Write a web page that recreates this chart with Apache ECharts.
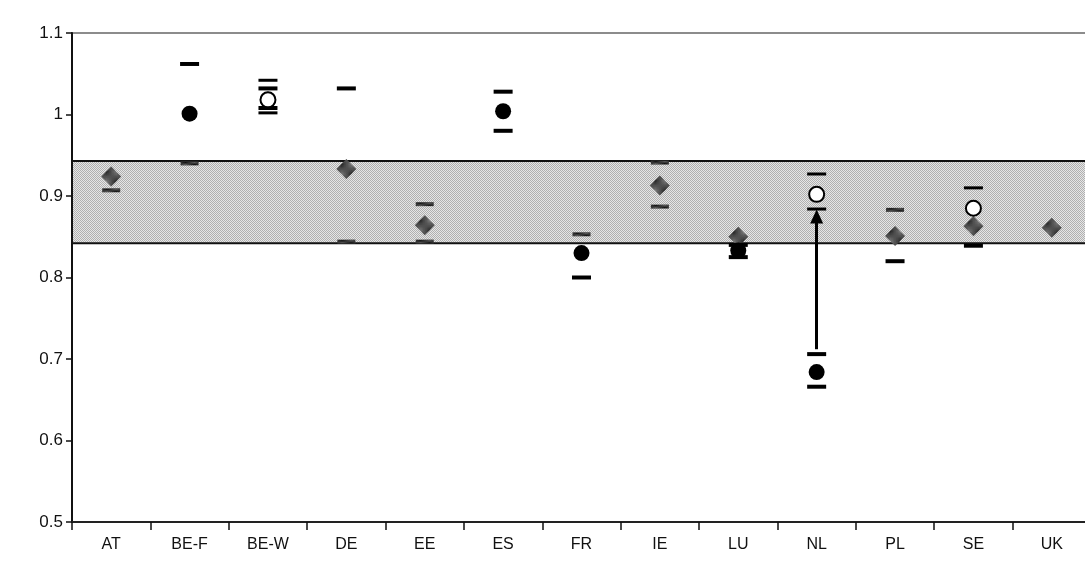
<!DOCTYPE html>
<html>
<head>
<meta charset="utf-8">
<script src="https://cdn.jsdelivr.net/npm/echarts@6/dist/echarts.min.js"></script>
<style>
  html, body { margin: 0; padding: 0; background: #fff; overflow: hidden; }
  #chart { width: 1091px; height: 572px; }
</style>
</head>
<body>
<div id="chart"></div>
<script>
// Countries on the horizontal axis
const categories = ['AT', 'BE-F', 'BE-W', 'DE', 'EE', 'ES', 'FR', 'IE', 'LU', 'NL', 'PL', 'SE', 'UK'];

// Filled estimates and their black interval bars
const filledPoint = [null, 1.001, 1.018, null, null, 1.004, 0.830, null, 0.833, 0.684, null, null, null];
const filledHigh  = [null, 1.062, 1.032, 1.032, null, 1.028, null, null, 0.840, 0.706, null, null, null];
const filledLow   = [null, null, 1.008, null, null, 0.980, 0.800, null, 0.825, 0.666, 0.820, 0.839, null];

// Open estimates and their bars
const openPoint = [null, null, 1.018, null, null, null, null, null, null, 0.902, null, 0.885, null];
const openHigh  = [null, null, 1.042, null, null, null, null, null, null, 0.927, null, 0.910, null];
const openLow   = [null, null, 1.002, null, null, null, null, null, null, 0.884, null, null, null];

// Shaded (grey) estimates and their bars
const greyPoint = [0.924, null, null, 0.933, 0.864, null, null, 0.913, 0.850, null, 0.851, 0.863, 0.861];
const greyHigh  = [null, null, null, null, 0.890, null, 0.853, 0.941, null, null, 0.883, null, null];
const greyLow   = [0.907, 0.940, null, 0.844, 0.844, null, null, 0.887, null, null, null, null, null];

// Reference band and the NL shift arrow
const bandRange = [0.842, 0.943];
const arrowFrom = ['NL', 0.712];
const arrowTo = ['NL', 0.875];

const yTicks = [0.5, 0.6, 0.7, 0.8, 0.9, 1.0, 1.1];
const yTickLabels = ['0.5', '0.6', '0.7', '0.8', '0.9', '1', '1.1'];

function checker(a, b) {
  const c = document.createElement('canvas');
  c.width = 2; c.height = 2;
  const g = c.getContext('2d');
  g.fillStyle = a; g.fillRect(0, 0, 2, 2);
  g.fillStyle = b; g.fillRect(0, 0, 1, 1); g.fillRect(1, 1, 1, 1);
  return { image: c, repeat: 'repeat' };
}
const bandFill = checker('#e6e6e6', '#b0b0b0');
const greyFill = checker('#7a7a7a', '#262626');
const whiskerFill = checker('#5a5a5a', '#111111');

const toData = arr => arr.map(v => (v == null ? '-' : v));
const FONT = 'Liberation Sans, Arial, sans-serif';
const solid = extra => Object.assign({ opacity: 1 }, extra);

const chart = echarts.init(document.getElementById('chart'), null, { renderer: 'canvas' });
chart.setOption({
  animation: false,
  backgroundColor: '#fff',
  grid: {
    left: 72, top: 33, right: 0, bottom: 50,
    show: true, borderColor: '#8c8c8c', borderWidth: 2
  },
  xAxis: {
    type: 'category',
    data: categories,
    boundaryGap: true,
    axisLine: { lineStyle: { color: '#222', width: 2 } },
    axisTick: { show: true, length: 8, lineStyle: { color: '#111', width: 1.5 } },
    axisLabel: { color: '#111', fontSize: 16, fontFamily: FONT, margin: 15 },
    splitLine: { show: false }
  },
  yAxis: {
    type: 'value',
    min: 0.5, max: 1.1, interval: 0.1,
    axisLine: { show: true, lineStyle: { color: '#111', width: 2 } },
    axisTick: { show: true, length: 6, lineStyle: { color: '#111', width: 1.5 } },
    axisLabel: {
      color: '#111', fontSize: 17, fontFamily: FONT, margin: 9,
      formatter: v => {
        const i = yTicks.findIndex(t => Math.abs(t - v) < 1e-6);
        return i >= 0 ? yTickLabels[i] : '';
      }
    },
    splitLine: { show: false }
  },
  series: [
    {
      name: 'grey', type: 'scatter', symbol: 'diamond', symbolSize: 20,
      data: toData(greyPoint),
      itemStyle: solid({ color: greyFill }),
      z: 3,
      markArea: {
        silent: true,
        itemStyle: { color: bandFill, borderColor: '#111', borderWidth: 2, opacity: 1 },
        data: [[{ yAxis: bandRange[0] }, { yAxis: bandRange[1] }]]
      }
    },
    {
      name: 'greyHigh', type: 'scatter', symbol: 'rect', symbolSize: [18, 4],
      data: toData(greyHigh), itemStyle: solid({ color: whiskerFill }), z: 3
    },
    {
      name: 'greyLow', type: 'scatter', symbol: 'rect', symbolSize: [18, 4],
      data: toData(greyLow), itemStyle: solid({ color: whiskerFill }), z: 3
    },
    {
      name: 'filledHigh', type: 'scatter', symbol: 'rect', symbolSize: [19, 4],
      data: toData(filledHigh), itemStyle: solid({ color: '#000' }), z: 4
    },
    {
      name: 'filledLow', type: 'scatter', symbol: 'rect', symbolSize: [19, 4],
      data: toData(filledLow), itemStyle: solid({ color: '#000' }), z: 4
    },
    {
      name: 'filled', type: 'scatter', symbol: 'circle', symbolSize: 16,
      data: toData(filledPoint), itemStyle: solid({ color: '#000' }), z: 5,
      markLine: {
        silent: true,
        symbol: ['none', 'triangle'],
        symbolSize: [13, 14],
        label: { show: false },
        lineStyle: { color: '#000', width: 3, type: 'solid', opacity: 1 },
        data: [[{ coord: arrowFrom }, { coord: arrowTo }]]
      }
    },
    {
      name: 'openHigh', type: 'scatter', symbol: 'rect', symbolSize: [19, 3],
      data: toData(openHigh), itemStyle: solid({ color: '#000' }), z: 6
    },
    {
      name: 'openLow', type: 'scatter', symbol: 'rect', symbolSize: [19, 3],
      data: toData(openLow), itemStyle: solid({ color: '#000' }), z: 6
    },
    {
      name: 'open', type: 'scatter', symbol: 'circle', symbolSize: 15,
      data: toData(openPoint),
      itemStyle: solid({ color: '#fff', borderColor: '#000', borderWidth: 2 }), z: 7
    }
  ]
});
</script>
</body>
</html>
